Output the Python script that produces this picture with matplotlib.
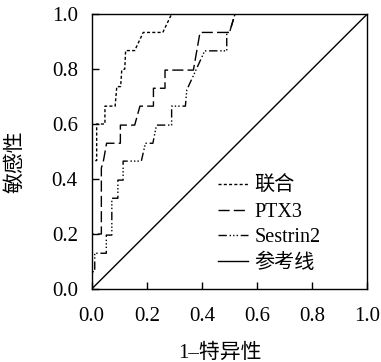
import matplotlib
matplotlib.use("Agg")
import matplotlib.pyplot as plt

plt.rcParams['font.family'] = ['Liberation Serif', 'Noto Sans CJK SC']

# ROC curves
combined_x = [0, 0, 0.018, 0.018, 0.048, 0.048, 0.085, 0.091, 0.105, 0.109, 0.12, 0.123, 0.156, 0.187, 0.258, 0.29, 1.0]
combined_y = [0, 0.467, 0.467, 0.6, 0.6, 0.665, 0.665, 0.736, 0.736, 0.796, 0.80, 0.867, 0.867, 0.933, 0.933, 1.0, 1.0]

ptx3_x = [0, 0, 0.035, 0.035, 0.042, 0.054, 0.104, 0.104, 0.156, 0.175, 0.224, 0.224, 0.266, 0.266, 0.369, 0.393, 0.50, 0.52, 1.0]
ptx3_y = [0, 0.2, 0.2, 0.44, 0.463, 0.53, 0.53, 0.596, 0.596, 0.665, 0.665, 0.73, 0.73, 0.796, 0.796, 0.933, 0.933, 1.0, 1.0]

sestrin_x = [0, 0, 0.011, 0.011, 0.053, 0.053, 0.073, 0.073, 0.095, 0.095, 0.114, 0.114, 0.18, 0.195, 0.222,
             0.235, 0.29, 0.29, 0.34, 0.345, 0.38, 0.41, 0.49, 0.49, 0.50, 0.52, 1.0]
sestrin_y = [0, 0.063, 0.063, 0.13, 0.13, 0.196, 0.196, 0.33, 0.33, 0.396, 0.396, 0.465, 0.465, 0.53, 0.53,
             0.596, 0.596, 0.665, 0.665, 0.724, 0.80, 0.866, 0.866, 0.933, 0.933, 1.0, 1.0]

ref_x = [0, 1]
ref_y = [0, 1]

ticks = [0.0, 0.2, 0.4, 0.6, 0.8, 1.0]
tick_labels = ['0.0', '0.2', '0.4', '0.6', '0.8', '1.0']

fig = plt.figure(figsize=(3.81, 3.62), dpi=100)
ax = fig.add_axes([0.2407, 0.2017, 0.7233, 0.7596])

ax.plot(combined_x, combined_y, color='black', lw=1.0, ls=(0, (2.2, 1.6)), label='联合')
ax.plot(ptx3_x, ptx3_y, color='black', lw=1.0, ls=(0, (8, 3)), label='PTX3')
ax.plot(sestrin_x, sestrin_y, color='black', lw=1.0, ls=(0, (6, 2, 1, 1.5, 1, 1.5, 1, 2)), label='Sestrin2')
ax.plot(ref_x, ref_y, color='black', lw=1.0, label='参考线')

ax.set_xlim(0, 1)
ax.set_ylim(0, 1)
ax.set_xticks(ticks)
ax.set_xticklabels(tick_labels)
ax.set_yticks(ticks)
ax.set_yticklabels(tick_labels)
ax.tick_params(direction='in', length=5, width=1, labelsize=15, pad=10)
ax.tick_params(axis='x', pad=13)
for s in ax.spines.values():
    s.set_linewidth(1)

ax.set_xlabel('1–特异性', fontsize=15)
ax.xaxis.set_label_coords(0.466, -0.2)
ax.set_ylabel('敏感性', fontsize=15)
ax.yaxis.set_label_coords(-0.24, 0.462)

ax.legend(loc='upper left', bbox_to_anchor=(0.458, 0.407), frameon=False, fontsize=14.5,
          handlelength=1.5, handletextpad=0.3, labelspacing=0.32, borderaxespad=0, borderpad=0)

fig.savefig('out.png', dpi=100)
